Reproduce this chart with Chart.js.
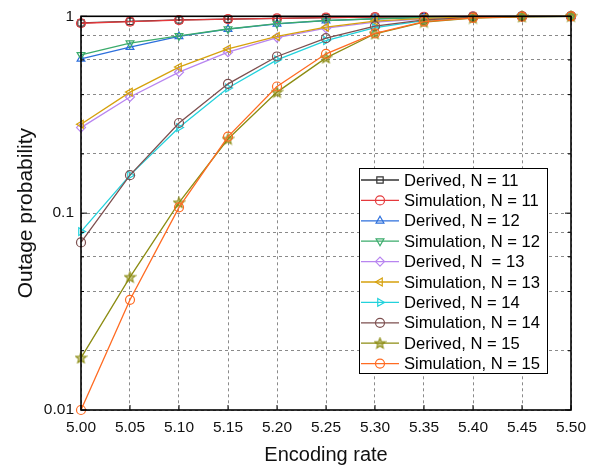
<!DOCTYPE html>
<html>
<head>
<meta charset="utf-8">
<script src="https://cdn.jsdelivr.net/npm/chart.js@4/dist/chart.umd.min.js"></script>
<style>
  html, body { margin: 0; padding: 0; background: #fff; }
  #wrap { width: 605px; height: 468px; }
</style>
</head>
<body>
<div id="wrap"><canvas id="myChart" width="605" height="468"></canvas></div>
<script>
// encoding rate values on the x axis
const rates = [5.00, 5.05, 5.10, 5.15, 5.20, 5.25, 5.30, 5.35, 5.40, 5.45, 5.50];

// outage probability
const derived11 = [0.925, 0.942, 0.958, 0.967, 0.975, 0.985, 0.990, 0.995, 0.998, 1, 1];
const sim11     = [0.922, 0.940, 0.957, 0.967, 0.975, 0.984, 0.990, 0.995, 0.998, 1, 1];
const derived12 = [0.608, 0.697, 0.790, 0.860, 0.915, 0.950, 0.970, 0.985, 0.995, 1, 1];
const sim12     = [0.637, 0.730, 0.795, 0.862, 0.918, 0.952, 0.972, 0.986, 0.995, 1, 1];
const derived13 = [0.272, 0.389, 0.520, 0.657, 0.780, 0.870, 0.935, 0.972, 0.990, 0.998, 1];
const sim13     = [0.283, 0.412, 0.552, 0.683, 0.790, 0.880, 0.945, 0.977, 0.992, 0.998, 1];
const derived14 = [0.0806, 0.156, 0.272, 0.432, 0.601, 0.753, 0.875, 0.950, 0.985, 0.997, 1];
const sim14     = [0.071, 0.156, 0.287, 0.454, 0.625, 0.774, 0.892, 0.960, 0.988, 0.998, 1];
const derived15 = [0.0184, 0.0473, 0.113, 0.238, 0.412, 0.615, 0.815, 0.935, 0.980, 0.995, 1];
const sim15     = [0.010, 0.0363, 0.107, 0.245, 0.440, 0.645, 0.818, 0.940, 0.982, 0.996, 1];

const seriesLabels = [
  'Derived, N = 11', 'Simulation, N = 11',
  'Derived, N = 12', 'Simulation, N = 12',
  'Derived, N  = 13', 'Simulation, N = 13',
  'Derived, N = 14', 'Simulation, N = 14',
  'Derived, N = 15', 'Simulation, N = 15'
];
const seriesValues = [derived11, sim11, derived12, sim12, derived13, sim13, derived14, sim14, derived15, sim15];

// tick labels
const xTicks = rates;
const yTicks = [0.01, 0.02, 0.04, 0.06, 0.08, 0.1, 0.2, 0.4, 0.6, 0.8, 1];
const yLabels = { 1: '1', 0.1: '0.1', 0.01: '0.01' };

const colors = ['#333333', '#e5393c', '#2c6fdc', '#3aab6b', '#b885f0', '#d6a10c', '#22d2dc', '#7d4f4f', '#8c8c12', '#ff6b22'];

// five point star marker (chart.js 'star' is an asterisk)
function makeStar(color) {
  const c = document.createElement('canvas');
  c.width = 13; c.height = 13;
  const g = c.getContext('2d');
  g.strokeStyle = color;
  g.fillStyle = color;
  g.lineWidth = 1.1;
  g.beginPath();
  for (let k = 0; k < 10; k++) {
    const r = k % 2 === 0 ? 5.6 : 2.4;
    const ang = -Math.PI / 2 + k * Math.PI / 5;
    const px = 6.5 + r * Math.cos(ang), py = 6.8 + r * Math.sin(ang);
    if (k === 0) g.moveTo(px, py); else g.lineTo(px, py);
  }
  g.closePath();
  g.globalAlpha = 0.45;
  g.fill();
  g.globalAlpha = 1;
  g.stroke();
  return c;
}

const markers = [
  { style: 'rect', rot: 0 },
  { style: 'circle', rot: 0 },
  { style: 'triangle', rot: 0 },
  { style: 'triangle', rot: 180 },
  { style: 'rectRot', rot: 0 },
  { style: 'triangle', rot: -90 },
  { style: 'triangle', rot: 90 },
  { style: 'circle', rot: 0 },
  { style: makeStar(colors[8]), rot: 0 },
  { style: 'circle', rot: 0 }
];

const fontName = '"Liberation Sans", Arial, Helvetica, sans-serif';

let datasets = [];
for (let i = 0; i < seriesValues.length; i++) {
  datasets.push({
    label: seriesLabels[i],
    data: rates.map((r, j) => ({ x: r, y: seriesValues[i][j] })),
    borderColor: colors[i],
    backgroundColor: 'rgba(0,0,0,0)',
    pointBorderColor: colors[i],
    pointBackgroundColor: 'rgba(0,0,0,0)',
    pointStyle: markers[i].style,
    pointRotation: markers[i].rot,
    pointRadius: 4.5,
    pointBorderWidth: 1.2,
    borderWidth: 1.3,
    tension: 0,
    clip: false,
    order: seriesValues.length - i   // later series on top
  });
}

// box round the axes, with small ticks pointing inward
const framePlugin = {
  id: 'frame',
  afterDatasetsDraw(chart) {
    const ctx = chart.ctx;
    const a = chart.chartArea;
    const xs = chart.scales.x, ys = chart.scales.y;
    ctx.save();
    ctx.strokeStyle = '#000';
    ctx.lineWidth = 1;
    ctx.beginPath();
    for (let i = 0; i < xTicks.length; i++) {
      const px = xs.getPixelForValue(xTicks[i]);
      ctx.moveTo(px, a.bottom); ctx.lineTo(px, a.bottom - 5);
      ctx.moveTo(px, a.top); ctx.lineTo(px, a.top + 5);
    }
    for (let i = 0; i < yTicks.length; i++) {
      const py = ys.getPixelForValue(yTicks[i]);
      const len = yLabels[yTicks[i]] ? 6 : 3;
      ctx.moveTo(a.left, py); ctx.lineTo(a.left + len, py);
      ctx.moveTo(a.right, py); ctx.lineTo(a.right - len, py);
    }
    ctx.stroke();
    ctx.lineWidth = 1.6;
    ctx.strokeRect(a.left, a.top, a.right - a.left, a.bottom - a.top);
    ctx.restore();
  }
};

function drawMarker(ctx, i, x, y) {
  const opts = { pointStyle: markers[i].style, rotation: markers[i].rot, radius: 4.5, borderWidth: 1.2 };
  ctx.strokeStyle = colors[i];
  ctx.fillStyle = 'rgba(0,0,0,0)';
  ctx.lineWidth = 1.2;
  if (Chart.helpers && Chart.helpers.drawPoint) {
    Chart.helpers.drawPoint(ctx, opts, x, y);
  } else {
    ctx.beginPath();
    ctx.arc(x, y, 4, 0, Math.PI * 2);
    ctx.stroke();
  }
}

// legend drawn inside the plot, lower right
const boxLegend = {
  id: 'boxLegend',
  afterDraw(chart) {
    const ctx = chart.ctx;
    const left = 359, top = 168, w = 188, h = 205;
    const rowH = 20.4, firstY = 180;
    ctx.save();
    ctx.fillStyle = '#fff';
    ctx.fillRect(left, top, w, h);
    ctx.strokeStyle = '#000';
    ctx.lineWidth = 1;
    ctx.strokeRect(left + 0.5, top + 0.5, w, h);
    ctx.font = '16.6px ' + fontName;
    ctx.textBaseline = 'middle';
    for (let i = 0; i < seriesLabels.length; i++) {
      const y = firstY + i * rowH;
      ctx.strokeStyle = colors[i];
      ctx.lineWidth = 1.3;
      ctx.beginPath();
      ctx.moveTo(left + 2, y);
      ctx.lineTo(left + 40, y);
      ctx.stroke();
      drawMarker(ctx, i, left + 21, y);
      ctx.fillStyle = '#000';
      ctx.fillText(seriesLabels[i], left + 45, y + 1);
    }
    ctx.restore();
  }
};

var ctx = document.getElementById('myChart').getContext('2d');
var chart = new Chart(ctx, {
  type: 'line',
  data: { datasets: datasets },
  plugins: [framePlugin, boxLegend],
  options: {
    responsive: false,
    animation: false,
    events: [],
    layout: { padding: { top: 14, right: 34, left: 0, bottom: 0 } },
    plugins: {
      legend: { display: false },
      tooltip: { enabled: false }
    },
    scales: {
      x: {
        type: 'linear',
        min: 5.0,
        max: 5.5,
        afterBuildTicks: (scale) => { scale.ticks = xTicks.map(v => ({ value: v })); },
        afterFit: (scale) => { scale.height = 58; },
        ticks: {
          color: '#111',
          font: { family: fontName, size: 15.5 },
          padding: 8,
          maxRotation: 0,
          autoSkip: false,
          callback: (v) => Number(v).toFixed(2)
        },
        grid: { color: '#8a8a8a', lineWidth: 1, drawTicks: false },
        border: { display: false, dash: [3, 3] },
        title: {
          display: true,
          text: 'Encoding rate',
          color: '#111',
          font: { family: fontName, size: 20 },
          padding: { top: 0, bottom: 1 }
        }
      },
      y: {
        type: 'logarithmic',
        min: 0.01,
        max: 1,
        afterBuildTicks: (scale) => { scale.ticks = yTicks.map(v => ({ value: v })); },
        afterFit: (scale) => { scale.width = 81; },
        ticks: {
          color: '#111',
          font: { family: fontName, size: 15.5 },
          padding: 7,
          autoSkip: false,
          callback: (v) => yLabels[v] || ''
        },
        grid: { color: '#8a8a8a', lineWidth: 1, drawTicks: false },
        border: { display: false, dash: [3, 3] },
        title: {
          display: true,
          text: 'Outage probability',
          color: '#111',
          font: { family: fontName, size: 21 },
          padding: { top: 14, bottom: 0 }
        }
      }
    }
  }
});
</script>
</body>
</html>
